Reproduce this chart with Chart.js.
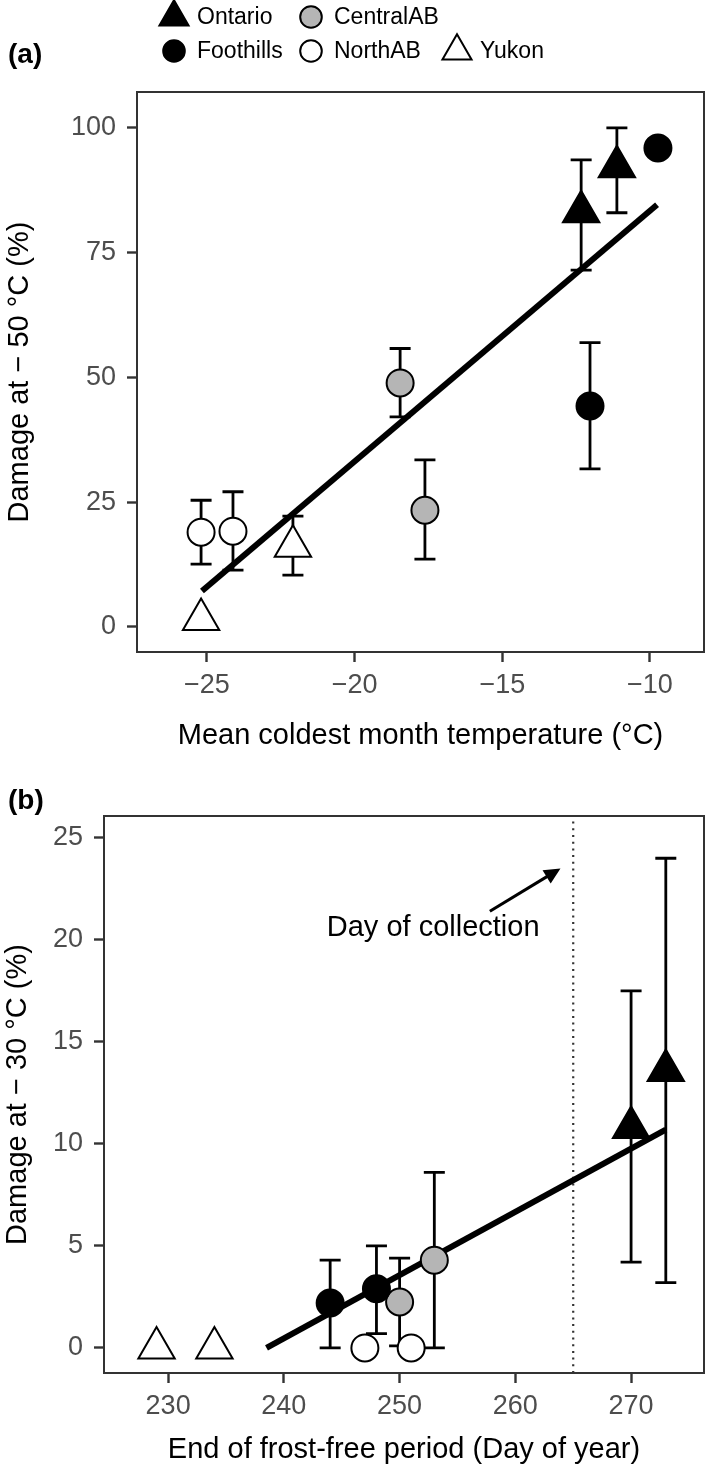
<!DOCTYPE html>
<html>
<head>
<meta charset="utf-8">
<script src="https://cdn.jsdelivr.net/npm/chart.js@4.4.1/dist/chart.umd.min.js"></script>
<style>
  html, body { margin: 0; padding: 0; background: #fff; overflow: hidden; }
  canvas { display: block; }
</style>
</head>
<body>
<canvas id="chartA" width="709" height="760" style="width:709px;height:760px"></canvas>
<canvas id="chartB" width="709" height="708" style="width:709px;height:708px"></canvas>
<script>
const FONT = "'Liberation Sans', Arial, sans-serif";

// panel (a): damage at -50 °C vs mean coldest month temperature
const aOntarioX = [-12.33, -11.12];
const aOntarioY = [83.2, 92.2];
const aOntarioLo = [71.5, 83.0];
const aOntarioHi = [93.6, 100.0];
const aFoothillsX = [-12.03, -9.73];
const aFoothillsY = [44.3, 96.0];
const aFoothillsLo = [31.7, null];
const aFoothillsHi = [57.0, null];
const aCentralX = [-18.46, -17.62];
const aCentralY = [48.9, 23.4];
const aCentralLo = [42.1, 13.6];
const aCentralHi = [55.8, 33.5];
const aNorthX = [-25.2, -24.12];
const aNorthY = [19.0, 19.2];
const aNorthLo = [12.6, 11.4];
const aNorthHi = [25.4, 27.1];
const aYukonX = [-25.2, -22.09];
const aYukonY = [1.5, 16.2];
const aYukonLo = [null, 10.4];
const aYukonHi = [null, 22.2];
const aFitX = [-25.17, -9.76];
const aFitY = [7.2, 84.6];
const aXTicks = [-25, -20, -15, -10];
const aYTicks = [0, 25, 50, 75, 100];

// panel (b): damage at -30 °C vs end of frost-free period
const bOntarioX = [270, 273];
const bOntarioY = [10.8, 13.6];
const bOntarioLo = [4.2, 3.2];
const bOntarioHi = [17.5, 24.0];
const bFoothillsX = [244, 248];
const bFoothillsY = [2.2, 2.9];
const bFoothillsLo = [0, 0.7];
const bFoothillsHi = [4.3, 5.0];
const bCentralX = [250, 253];
const bCentralY = [2.25, 4.3];
const bCentralLo = [0.1, 0];
const bCentralHi = [4.4, 8.6];
const bNorthX = [247, 251];
const bNorthY = [0, 0];
const bYukonX = [229, 234];
const bYukonY = [0, 0];
const bFitX = [238.5, 273];
const bFitY = [0, 10.7];
const bCollectionDay = 265;
const bXTicks = [230, 240, 250, 260, 270];
const bYTicks = [0, 5, 10, 15, 20, 25];

const pts = (xs, ys) => xs.map((x, i) => ({x: x, y: ys[i]}));

const shapes = {
  Ontario:   {pointStyle: 'triangle', pointRadius: 21, pointBackgroundColor: '#000'},
  CentralAB: {pointStyle: 'circle', pointRadius: 13.5, pointBackgroundColor: '#b5b5b5'},
  Foothills: {pointStyle: 'circle', pointRadius: 13.5, pointBackgroundColor: '#000'},
  NorthAB:   {pointStyle: 'circle', pointRadius: 13.5, pointBackgroundColor: '#fff'},
  Yukon:     {pointStyle: 'triangle', pointRadius: 21, pointBackgroundColor: '#fff'}
};

function site(name, xs, ys, lo, hi) {
  return Object.assign({
    type: 'scatter', label: name, data: pts(xs, ys),
    errLo: lo || null, errHi: hi || null,
    pointBorderColor: '#000', pointBorderWidth: 2, pointHoverRadius: 0, order: 1
  }, shapes[name]);
}

function fitLine(xs, ys) {
  return {type: 'line', label: 'fit', isFit: true, data: pts(xs, ys), borderColor: '#000',
          borderWidth: 6, pointRadius: 0, fill: false, order: 10};
}

const minus = v => v < 0 ? '\u2212' + Math.abs(v) : String(v);

// error bars go after the fit line and before the points
function drawErrors(chart) {
  const ctx = chart.ctx, ys = chart.scales.y;
  ctx.save();
  ctx.strokeStyle = '#000';
  ctx.lineWidth = 2.8;
  chart.data.datasets.forEach((ds, di) => {
    if (!ds.errLo) return;
    chart.getDatasetMeta(di).data.forEach((p, i) => {
      const lo = ds.errLo[i], hi = ds.errHi[i];
      if (lo == null) return;
      const y0 = ys.getPixelForValue(lo), y1 = ys.getPixelForValue(hi);
      ctx.beginPath();
      ctx.moveTo(p.x, y0); ctx.lineTo(p.x, y1);
      ctx.moveTo(p.x - 10.5, y0); ctx.lineTo(p.x + 10.5, y0);
      ctx.moveTo(p.x - 10.5, y1); ctx.lineTo(p.x + 10.5, y1);
      ctx.stroke();
    });
  });
  ctx.restore();
}

const errorBars = {
  id: 'errorBars',
  afterDatasetDraw(chart, args) {
    if (chart.data.datasets[args.index].isFit) drawErrors(chart);
  }
};

const panelBox = {
  id: 'panelBox',
  afterDraw(chart) {
    const a = chart.chartArea, ctx = chart.ctx, o = chart.options.plugins.panelBox;
    ctx.save();
    ctx.strokeStyle = '#333';
    ctx.lineWidth = 2;
    ctx.strokeRect(a.left, a.top, a.right - a.left, a.bottom - a.top);
    ctx.fillStyle = '#000';
    ctx.font = 'bold 28px ' + FONT;
    ctx.textBaseline = 'middle';
    ctx.fillText(o.tag, 8, o.tagY);
    ctx.restore();
  }
};

const legendItems = [
  {name: 'Ontario', x: 174, y: 17},
  {name: 'CentralAB', x: 311, y: 17},
  {name: 'Foothills', x: 174, y: 51},
  {name: 'NorthAB', x: 311, y: 51},
  {name: 'Yukon', x: 457, y: 51}
];

const siteLegend = {
  id: 'siteLegend',
  afterDraw(chart) {
    const ctx = chart.ctx;
    ctx.save();
    legendItems.forEach(it => {
      const s = shapes[it.name];
      ctx.fillStyle = s.pointBackgroundColor;
      ctx.strokeStyle = '#000';
      ctx.lineWidth = 2;
      Chart.helpers.drawPoint(ctx, {pointStyle: s.pointStyle, radius: s.pointRadius * 0.8,
        borderWidth: 2, rotation: 0}, it.x, it.y);
      ctx.fillStyle = '#000';
      ctx.font = '23px ' + FONT;
      ctx.textBaseline = 'middle';
      ctx.fillText(it.name, it.x + 23, it.y + 1);
    });
    ctx.restore();
  }
};

const collectionNote = {
  id: 'collectionNote',
  afterDatasetsDraw(chart) {
    const xs = chart.scales.x, ys = chart.scales.y, ctx = chart.ctx;
    const x0 = xs.getPixelForValue(257.8), y0 = ys.getPixelForValue(21.4);
    const x1 = xs.getPixelForValue(263.9), y1 = ys.getPixelForValue(23.5);
    const ang = Math.atan2(y1 - y0, x1 - x0), L = 18, W = 0.45;
    ctx.save();
    ctx.strokeStyle = '#000';
    ctx.fillStyle = '#000';
    ctx.lineWidth = 3;
    ctx.beginPath();
    ctx.moveTo(x0, y0);
    ctx.lineTo(x1 - Math.cos(ang) * L * 0.8, y1 - Math.sin(ang) * L * 0.8);
    ctx.stroke();
    ctx.beginPath();
    ctx.moveTo(x1, y1);
    ctx.lineTo(x1 - L * Math.cos(ang - W), y1 - L * Math.sin(ang - W));
    ctx.lineTo(x1 - L * Math.cos(ang + W), y1 - L * Math.sin(ang + W));
    ctx.closePath();
    ctx.fill();
    ctx.font = '29px ' + FONT;
    ctx.textAlign = 'center';
    ctx.textBaseline = 'middle';
    ctx.fillText('Day of collection', xs.getPixelForValue(252.9), ys.getPixelForValue(20.6));
    ctx.restore();
  }
};

function noPad(s) {
  s.paddingLeft = 0; s.paddingRight = 0; s.paddingTop = 0; s.paddingBottom = 0;
}

function axes(xMin, xMax, xTicks, xTitle, xHeight, xTitlePad, yMin, yMax, yTicks, yTitle, yWidth, yTitlePad) {
  const grid = {display: true, drawOnChartArea: false, drawTicks: true, tickLength: 10,
                tickWidth: 2.4, tickColor: '#333'};
  const tickFont = {family: FONT, size: 27};
  const titleFont = {family: FONT, size: 29};
  return {
    x: {
      type: 'linear', min: xMin, max: xMax,
      afterBuildTicks: s => { s.ticks = xTicks.map(v => ({value: v})); },
      afterFit: s => { s.height = xHeight; noPad(s); },
      ticks: {callback: minus, color: '#4d4d4d', font: tickFont, padding: 7, maxRotation: 0},
      grid: grid, border: {display: false},
      title: {display: true, text: xTitle, color: '#000', font: titleFont,
              padding: {top: 0, bottom: xTitlePad}}
    },
    y: {
      type: 'linear', min: yMin, max: yMax,
      afterBuildTicks: s => { s.ticks = yTicks.map(v => ({value: v})); },
      afterFit: s => { s.width = yWidth; noPad(s); },
      ticks: {callback: minus, color: '#4d4d4d', font: tickFont, padding: 11},
      grid: grid, border: {display: false},
      title: {display: true, text: yTitle, color: '#000', font: titleFont,
              padding: {top: yTitlePad, bottom: 0}}
    }
  };
}

new Chart(document.getElementById('chartA'), {
  data: {
    datasets: [
      site('Ontario', aOntarioX, aOntarioY, aOntarioLo, aOntarioHi),
      site('Foothills', aFoothillsX, aFoothillsY, aFoothillsLo, aFoothillsHi),
      site('CentralAB', aCentralX, aCentralY, aCentralLo, aCentralHi),
      site('NorthAB', aNorthX, aNorthY, aNorthLo, aNorthHi),
      site('Yukon', aYukonX, aYukonY, aYukonLo, aYukonHi),
      fitLine(aFitX, aFitY)
    ]
  },
  options: {
    responsive: false, animation: false, events: [], devicePixelRatio: 1,
    layout: {autoPadding: false, padding: {top: 92, right: 5, bottom: 0, left: 0}},
    plugins: {legend: {display: false}, tooltip: {enabled: false},
              panelBox: {tag: '(a)', tagY: 55}},
    scales: axes(-27.37, -8.17, aXTicks, 'Mean coldest month temperature (\u00b0C)', 108, 7,
                 -5.01, 107.2, aYTicks, 'Damage at \u2212 50 \u00b0C (%)', 137, 3)
  },
  plugins: [errorBars, panelBox, siteLegend]
});

new Chart(document.getElementById('chartB'), {
  data: {
    datasets: [
      site('Ontario', bOntarioX, bOntarioY, bOntarioLo, bOntarioHi),
      site('Foothills', bFoothillsX, bFoothillsY, bFoothillsLo, bFoothillsHi),
      site('CentralAB', bCentralX, bCentralY, bCentralLo, bCentralHi),
      site('NorthAB', bNorthX, bNorthY),
      site('Yukon', bYukonX, bYukonY),
      fitLine(bFitX, bFitY),
      {type: 'line', label: 'collection', data: [{x: bCollectionDay, y: -1.23}, {x: bCollectionDay, y: 26.07}],
       borderColor: '#333', borderWidth: 2.2, borderDash: [2, 4.7], pointRadius: 0, order: 11}
    ]
  },
  options: {
    responsive: false, animation: false, events: [], devicePixelRatio: 1,
    layout: {autoPadding: false, padding: {top: 56, right: 5, bottom: 0, left: 0}},
    plugins: {legend: {display: false}, tooltip: {enabled: false},
              panelBox: {tag: '(b)', tagY: 41}},
    scales: axes(224.46, 276.3, bXTicks, 'End of frost-free period (Day of year)', 95, 1,
                 -1.23, 26.07, bYTicks, 'Damage at \u2212 30 \u00b0C (%)', 104, 1)
  },
  plugins: [errorBars, panelBox, collectionNote]
});
</script>
</body>
</html>
